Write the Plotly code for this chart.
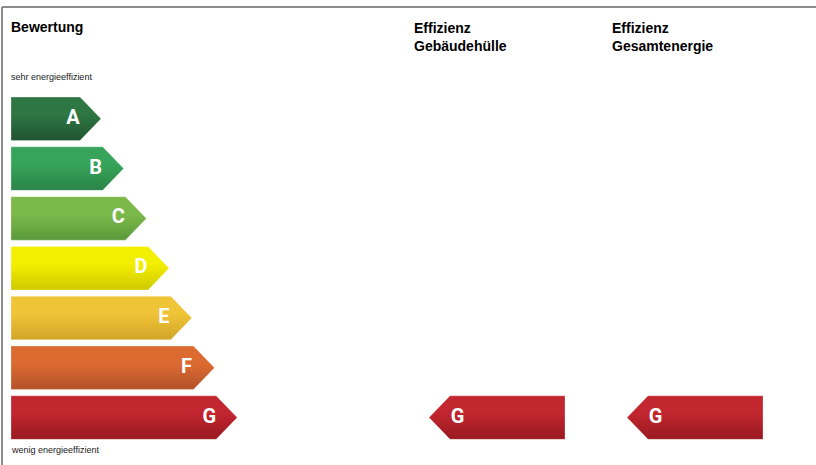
import plotly.graph_objects as go

# ---- data ----
ratings = ["A", "B", "C", "D", "E", "F", "G"]
color_top = ["#2e7643", "#36a45a", "#7cb94b", "#f3ef00", "#f0c437", "#dc6b31", "#c2262f"]
color_bottom = ["#215431", "#2a8447", "#5a993a", "#d0c900", "#d2a428", "#b4522a", "#98191f"]
columns = ["Effizienz<br>Gebäudehülle", "Effizienz<br>Gesamtenergie"]
column_values = ["G", "G"]
title_left = "Bewertung"
label_top = "sehr energieeffizient"
label_bottom = "wenig energieeffizient"

# ---- layout constants (pixel-like x axis, row-index y axis) ----
W, H = 816, 465
row0_px, row_step = 118.8, 49.8
bar_h = 0.873
left_x = 11
tip0, tip_step, tip_w = 101, 22.7, 21
col_x = [414, 612]
col_tip_off, col_len = 15, 151
text_pad = 2  # annotation internal padding compensation

fig = go.Figure()

def add_arrow(xs, ys, i, top, bottom):
    fig.add_trace(go.Scatter(
        x=xs, y=ys, mode="lines", fill="toself",
        line=dict(width=0.8, color="rgba(255,255,255,0.35)"),
        fillgradient=dict(type="vertical",
                          colorscale=[[0, top], [0.4, top], [1, bottom]],
                          start=i - bar_h / 2, stop=i + bar_h / 2),
        hoverinfo="skip", showlegend=False))

# left scale
for i, r in enumerate(ratings):
    tip = tip0 + tip_step * i
    yt, yb = i - bar_h / 2, i + bar_h / 2
    xs = [left_x, tip - tip_w, tip, tip - tip_w, left_x, left_x]
    ys = [yt, yt, i, yb, yb, yt]
    add_arrow(xs, ys, i, color_top[i], color_bottom[i])
    fig.add_trace(go.Scatter(
        x=[tip - 28], y=[i], mode="text", text=[r],
        textfont=dict(family="Roboto", size=20, color="white", weight="bold"),
        hoverinfo="skip", showlegend=False))

# column indicators
for c, v in enumerate(column_values):
    i = ratings.index(v)
    tip = col_x[c] + col_tip_off
    right = col_x[c] + col_len
    yt, yb = i - bar_h / 2, i + bar_h / 2
    xs = [tip, tip + tip_w, right, right, tip + tip_w, tip]
    ys = [i, yt, yt, yb, yb, i]
    add_arrow(xs, ys, i, color_top[i], color_bottom[i])
    fig.add_trace(go.Scatter(
        x=[tip + 28.5], y=[i], mode="text", text=[v],
        textfont=dict(family="Roboto", size=20, color="white", weight="bold"),
        hoverinfo="skip", showlegend=False))

def py(px):
    return 1 - px / H

ann = []
ann.append(dict(x=left_x - text_pad, y=py(27), xref="x", yref="paper", text=title_left,
                xanchor="left", yanchor="middle", showarrow=False,
                font=dict(family="Liberation Sans, Arial", size=14, color="black", weight="bold")))
for c, name in enumerate(columns):
    ann.append(dict(x=col_x[c] - text_pad, y=py(36.5), xref="x", yref="paper", text=name,
                    xanchor="left", yanchor="middle", showarrow=False, align="left",
                    font=dict(family="Liberation Sans, Arial", size=14, color="black", weight="bold")))
ann.append(dict(x=left_x - text_pad, y=py(77), xref="x", yref="paper", text=label_top,
                xanchor="left", yanchor="middle", showarrow=False,
                font=dict(family="Liberation Sans, Arial", size=9, color="#222")))
ann.append(dict(x=left_x - text_pad, y=py(450), xref="x", yref="paper", text=label_bottom,
                xanchor="left", yanchor="middle", showarrow=False,
                font=dict(family="Liberation Sans, Arial", size=9, color="#222")))

shapes = [
    dict(type="line", xref="paper", yref="paper", x0=2 / W, x1=2 / W, y0=0, y1=py(7),
         line=dict(color="#8c8c8c", width=2)),
    dict(type="line", xref="paper", yref="paper", x0=2 / W, x1=1, y0=py(7), y1=py(7),
         line=dict(color="#8c8c8c", width=2)),
]

y_lo = (0 - row0_px) / row_step
y_hi = (H - row0_px) / row_step

fig.update_layout(
    width=W, height=H, autosize=False,
    margin=dict(l=0, r=0, t=0, b=0, pad=0),
    paper_bgcolor="white", plot_bgcolor="white",
    xaxis=dict(range=[0, W], visible=False, fixedrange=True),
    yaxis=dict(range=[y_hi, y_lo], visible=False, fixedrange=True),
    annotations=ann, shapes=shapes, showlegend=False,
)

fig.write_html(
    "out.html",
    config={"displayModeBar": False},
    post_script="document.body.style.margin='0';document.body.style.overflow='hidden';",
)
